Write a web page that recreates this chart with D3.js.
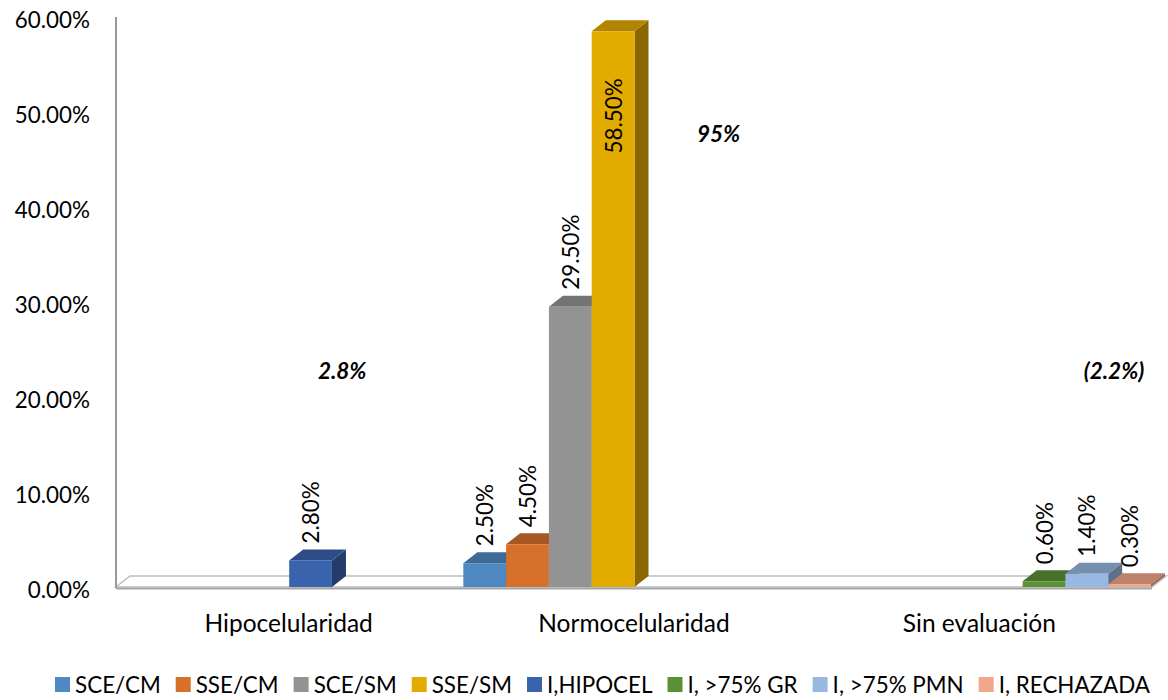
<!DOCTYPE html>
<html>
<head>
<meta charset="utf-8">
<script src="https://cdn.jsdelivr.net/npm/d3@7"></script>
<style>
  body { margin: 0; background: #fff; }
  svg { display: block; }
  text { font-family: Lato, "Open Sans", sans-serif; fill: #000; }
</style>
</head>
<body>
<svg id="chart" width="1168" height="700"></svg>
<script>
// Categories along the horizontal axis
const categories = ["Hipocelularidad", "Normocelularidad", "Sin evaluación"];
// Series (one coloured column each)
const seriesNames = ["SCE/CM", "SSE/CM", "SCE/SM", "SSE/SM", "I,HIPOCEL", "I, >75% GR", "I, >75% PMN", "I, RECHAZADA"];
const seriesColors = ["#4E89C1", "#D6702A", "#939393", "#E3AB00", "#3A63AE", "#5B9134", "#97B8E0", "#F2A68A"];
// Percentages per series for each category (null = no column)
const hipocelularidad = [null, null, null, null, 2.8, null, null, null];
const normocelularidad = [2.5, 4.5, 29.5, 58.5, null, null, null, null];
const sinEvaluacion = [null, null, null, null, null, 0.6, 1.4, 0.3];
// Value axis ticks
const yTicks = [0, 10, 20, 30, 40, 50, 60];
// Group totals written beside each category
const groupNotes = ["2.8%", "95%", "(2.2%)"];

const rows = [hipocelularidad, normocelularidad, sinEvaluacion];

const svg = d3.select("#chart");

// Plot geometry (front plane) and oblique depth of the 3-D columns
const plotLeft = 116, plotRight = 1152, plotBase = 587, plotTop = 17;
const depth = { dx: 14, dy: -11 };
const labelSize = "22.4px";

const x0 = d3.scaleBand().domain(categories).range([plotLeft, plotRight]);
const x1 = d3.scaleBand().domain(seriesNames).range([2, x0.bandwidth() - 1]);
const y = d3.scaleLinear().domain([0, 60]).range([plotBase, plotTop]);
const color = d3.scaleOrdinal().domain(seriesNames).range(seriesColors);

// Floor of the 3-D plot
svg.append("polygon")
  .attr("points", [
    [plotLeft, plotBase], [plotRight, plotBase],
    [plotRight + depth.dx, plotBase + depth.dy], [plotLeft + depth.dx, plotBase + depth.dy]
  ].map(p => p.join(",")).join(" "))
  .attr("fill", "#fff")
  .attr("stroke", "#BFBFBF")
  .attr("stroke-width", 1.5);

// Vertical value axis line
svg.append("line")
  .attr("x1", plotLeft).attr("x2", plotLeft)
  .attr("y1", plotTop).attr("y2", plotBase + 1)
  .attr("stroke", "#999").attr("stroke-width", 2);

// Value axis labels
const yAxis = svg.append("g")
  .attr("transform", `translate(${plotLeft},3)`)
  .call(d3.axisLeft(y).tickValues(yTicks).tickSize(0).tickPadding(26)
    .tickFormat(d => d.toFixed(2) + "%"));
yAxis.select(".domain").remove();
yAxis.selectAll("text").style("font-size", labelSize).style("font-family", "Lato, sans-serif").attr("fill", "#000");

// Category labels
const xAxis = svg.append("g")
  .attr("transform", `translate(0,${plotBase + 45})`)
  .call(d3.axisBottom(x0).tickSize(0).tickPadding(0));
xAxis.select(".domain").remove();
xAxis.selectAll("text").style("font-size", "24.5px").style("font-family", "Lato, sans-serif")
  .attr("fill", "#000").attr("dy", "0");

// Flatten to one record per drawn column
const bars = [];
rows.forEach((row, ci) => {
  row.forEach((v, si) => {
    if (v != null) bars.push({ cat: categories[ci], series: seriesNames[si], value: v });
  });
});

const barG = svg.append("g");
bars.forEach(b => {
  const xl = x0(b.cat) + x1(b.series);
  const w = x1.bandwidth();
  const yt = y(b.value), yb = y(0);
  const c = d3.rgb(color(b.series));
  const g = barG.append("g");
  // right side face
  g.append("polygon")
    .attr("points", [[xl + w, yt], [xl + w + depth.dx, yt + depth.dy],
      [xl + w + depth.dx, yb + depth.dy], [xl + w, yb]].map(p => p.join(",")).join(" "))
    .attr("fill", c.darker(1.4));
  // top face
  g.append("polygon")
    .attr("points", [[xl, yt], [xl + w, yt], [xl + w + depth.dx, yt + depth.dy],
      [xl + depth.dx, yt + depth.dy]].map(p => p.join(",")).join(" "))
    .attr("fill", c.darker(0.7));
  // front face
  g.append("rect")
    .attr("x", xl).attr("y", yt)
    .attr("width", w).attr("height", yb - yt)
    .attr("fill", c);
});

// Front edge of the floor, drawn over the column feet
svg.append("line")
  .attr("x1", plotLeft).attr("x2", plotRight)
  .attr("y1", plotBase + 1.5).attr("y2", plotBase + 1.5)
  .attr("stroke", "#A6A6A6").attr("stroke-width", 2);

// Rotated value labels
const fmt = v => v.toFixed(2) + "%";
bars.forEach(b => {
  const cx = x0(b.cat) + x1(b.series) + x1.bandwidth() / 2;
  const inside = b.value > 50;
  const ly = inside ? y(b.value) + 47 : y(b.value) + depth.dy - 6;
  svg.append("text")
    .attr("transform", `translate(${cx},${ly}) rotate(-90)`)
    .attr("text-anchor", inside ? "end" : "start")
    .attr("dominant-baseline", "central")
    .style("font-size", labelSize)
    .text(fmt(b.value));
});

// Group totals beside each category
const noteLayout = [
  { dx: 0.155, v: 22.8 },
  { dx: 0.245, v: 47.7 },
  { dx: 0.39, v: 22.8 }
];
groupNotes.forEach((t, i) => {
  const cx = x0(categories[i]) + x0.bandwidth() / 2 + noteLayout[i].dx * x0.bandwidth();
  svg.append("text")
    .attr("x", cx).attr("y", y(noteLayout[i].v))
    .attr("text-anchor", "middle")
    .attr("dominant-baseline", "central")
    .style("font-size", "22.5px")
    .style("font-weight", "bold")
    .style("font-style", "italic")
    .text(t);
});

// Legend along the bottom, centred
const legend = svg.append("g");
const sq = 15, gapAfterSq = 5, gapItems = 15;
let lx = 0;
seriesNames.forEach(s => {
  const item = legend.append("g").attr("transform", `translate(${lx},0)`);
  item.append("rect").attr("x", 0).attr("y", -16).attr("width", sq).attr("height", sq)
    .attr("fill", color(s));
  const t = item.append("text").attr("x", sq + gapAfterSq).attr("y", 0)
    .style("font-size", labelSize).text(s);
  lx += sq + gapAfterSq + t.node().getComputedTextLength() + gapItems;
});
const legendW = lx - gapItems;
legend.attr("transform", `translate(${602.5 - legendW / 2},693)`);
</script>
</body>
</html>
